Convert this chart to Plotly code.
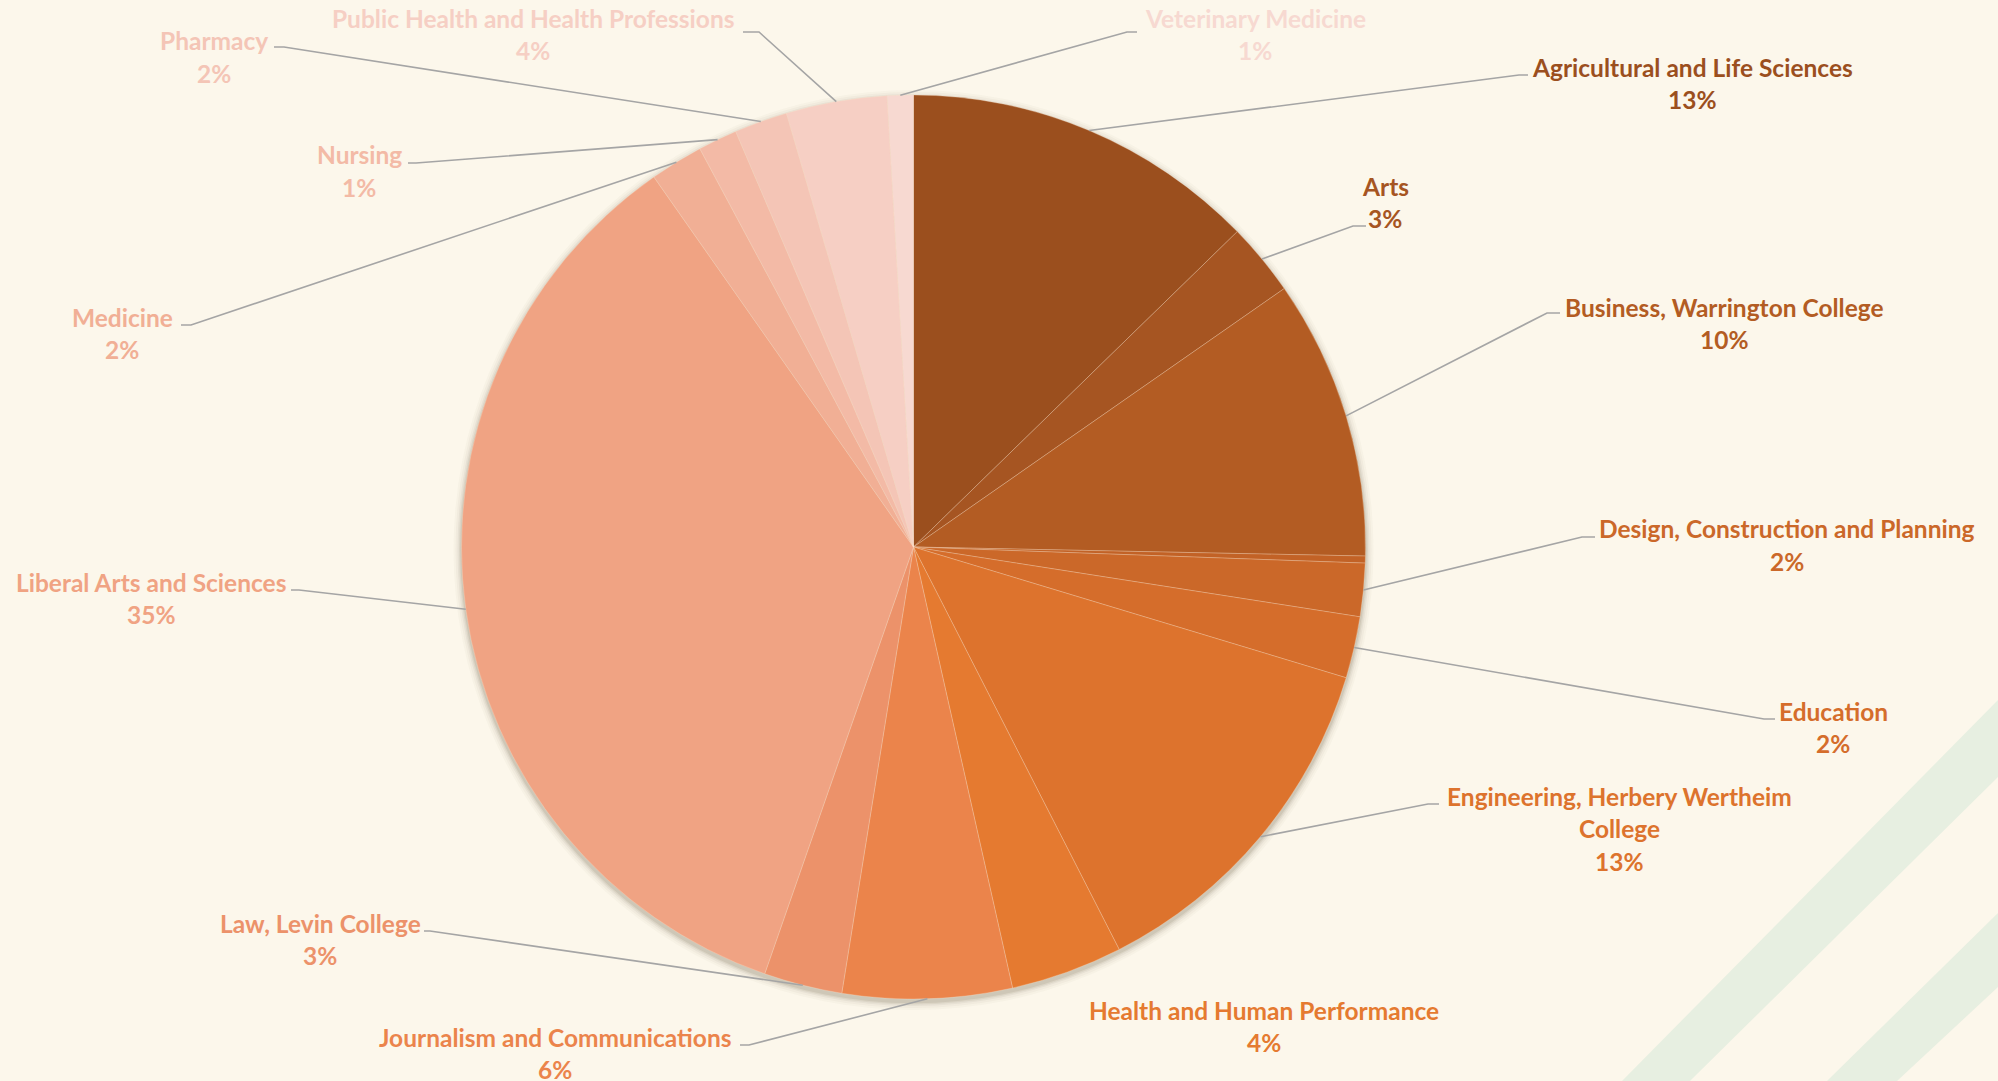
import math
import plotly.graph_objects as go

# ---------------- data ----------------
categories = [
    "Agricultural and Life Sciences",
    "Arts",
    "Business, Warrington College",
    "Dentistry",
    "Design, Construction and Planning",
    "Education",
    "Engineering, Herbery Wertheim College",
    "Health and Human Performance",
    "Journalism and Communications",
    "Law, Levin College",
    "Liberal Arts and Sciences",
    "Medicine",
    "Nursing",
    "Pharmacy",
    "Public Health and Health Professions",
    "Veterinary Medicine",
]
shares = [12.7, 2.6, 10.0, 0.25, 1.9, 2.2, 12.8, 4.0, 6.05, 2.8, 34.9, 1.9, 1.4, 1.9, 3.6, 0.93]

# ---------------- styling ----------------
colors = [
    "#9B4F1E", "#A65522", "#B35C23", "#C26226", "#CB6829", "#D56D2B",
    "#DD732D", "#E57A30", "#EB844B", "#EC926A", "#F0A383", "#F1AF95",
    "#F3BAA6", "#F4C5B6", "#F6CFC4", "#F7D9D1",
]

W, H = 1998, 1081
CX, CY, R = 913.5, 547.0, 452.0
BG = "#FCF7EB"
FONT = "Lato, 'Open Sans', sans-serif"
FONT_SIZE = 24.5
LINE_GAP = 32.5

# label layout: text centre (x, y of first line), leader elbow, leader end, wrap
label_layout = {
    "Agricultural and Life Sciences": ((1692, 67), (1519, 75), (1528, 75), False),
    "Arts": ((1385, 186), (1353, 226), (1366, 226), False),
    "Business, Warrington College": ((1724, 307), (1547, 313), (1560, 313), False),
    "Design, Construction and Planning": ((1787, 529), (1582, 537), (1595, 537), False),
    "Education": ((1833, 711), (1764, 719), (1775, 719), False),
    "Engineering, Herbery Wertheim College": ((1619, 796), (1428, 804), (1439, 804), True),
    "Health and Human Performance": ((1264, 1010), None, None, False),
    "Journalism and Communications": ((555, 1037), (749, 1045), (740, 1045), False),
    "Law, Levin College": ((320, 923), (430, 931), (424, 931), False),
    "Liberal Arts and Sciences": ((151, 582), (299, 590), (291, 590), False),
    "Medicine": ((122, 317), (191, 325), (181, 325), False),
    "Nursing": ((359, 155), (416, 163), (408, 163), False),
    "Pharmacy": ((214, 41), (284, 47), (274, 47), False),
    "Public Health and Health Professions": ((533, 18), (759, 32), (743, 32), False),
    "Veterinary Medicine": ((1255, 18), (1127, 32), (1137, 32), False),
}


def px(x):
    return x / W


def py(y):
    return 1 - y / H


fig = go.Figure()

fig.add_trace(go.Pie(
    labels=categories,
    values=shares,
    sort=False,
    direction="clockwise",
    rotation=0,
    textinfo="none",
    marker=dict(colors=colors, line=dict(color="rgba(255,225,200,0.4)", width=0.7)),
    domain=dict(x=[px(CX - R), px(CX + R)], y=[py(CY + R), py(CY - R)]),
    showlegend=False,
    hovertemplate="%{label}<br>%{percent:.0%}<extra></extra>",
))

shapes = []

# decorative green stripes (bottom right)
stripes = [
    [(1622, 1081), (1998, 700), (1998, 777), (1690, 1081)],
    [(1827, 1081), (1998, 913), (1998, 987), (1897, 1081)],
]
for poly in stripes:
    path = "M " + " L ".join(f"{px(x)},{py(y)}" for x, y in poly) + " Z"
    shapes.append(dict(type="path", path=path, xref="paper", yref="paper",
                       fillcolor="#E7EFE1", line=dict(width=0), layer="below"))

# soft drop shadow behind the pie
for grow, alpha in [(8, 0.03), (6, 0.045), (4, 0.065), (2.5, 0.09), (1.2, 0.12)]:
    r = R + grow
    oy = 3
    shapes.append(dict(type="circle", xref="paper", yref="paper",
                       x0=px(CX - r), x1=px(CX + r), y0=py(CY + oy + r), y1=py(CY + oy - r),
                       fillcolor=f"rgba(110,95,70,{alpha})", line=dict(width=0), layer="below"))

# leader lines and labels
total = sum(shares)
annotations = []
cum = 0.0
for name, v, col in zip(categories, shares, colors):
    mid = (cum + v / 2) / total * 2 * math.pi
    cum += v
    if name not in label_layout:
        continue
    (tx, ty), elbow, end, wrap = label_layout[name]
    if elbow is not None:
        sx = CX + R * math.sin(mid)
        sy = CY - R * math.cos(mid)
        path = f"M {px(sx)},{py(sy)} L {px(elbow[0])},{py(elbow[1])} L {px(end[0])},{py(end[1])}"
        shapes.append(dict(type="path", path=path, xref="paper", yref="paper",
                           line=dict(color="#A5A5A5", width=1.6), layer="above"))
    pct = f"{round(100 * v / total)}%"
    lines = name.rsplit(" ", 1) if wrap else [name]
    lines = lines + [pct]
    for k, txt in enumerate(lines):
        annotations.append(dict(
            x=px(tx), y=py(ty + k * LINE_GAP), xref="paper", yref="paper",
            text=txt, showarrow=False, xanchor="center", yanchor="middle",
            font=dict(family=FONT, size=FONT_SIZE, color=col, weight="bold"),
        ))

fig.update_layout(
    width=W, height=H,
    margin=dict(l=0, r=0, t=0, b=0),
    paper_bgcolor=BG,
    plot_bgcolor=BG,
    shapes=shapes,
    annotations=annotations,
    showlegend=False,
)

fig.write_html(
    "out.html",
    config={"displayModeBar": False},
    post_script="document.body.style.margin='0px';document.body.style.overflow='hidden';",
)
